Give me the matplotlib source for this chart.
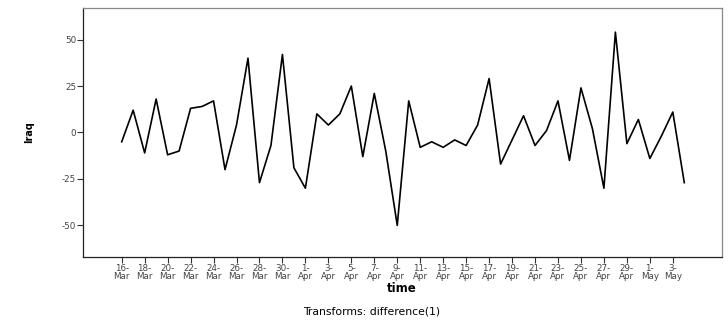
import matplotlib.pyplot as plt
import numpy as np
import pandas as pd

plt.rcParams['font.family'] = ['DejaVu Sans']

# daily first differences, 16-Mar .. 4-May
dates = pd.date_range('2003-03-16', '2003-05-04', freq='D')
iraq = [-5, 12, -11, 18, -12, -10, 13, 14, 17, -20,
        4, 40, -27, -7, 42, -19, -30, 10, 4, 10,
        25, -13, 21, -10, -50, 17, -8, -5, -8, -4,
        -7, 4, 29, -17, -4, 9, -7, 1, 17, -15,
        24, 2, -30, 54, -6, 7, -14, -2, 11, -27]
y_ticks = [-50, -25, 0, 25, 50]

x = np.arange(len(dates))
tick_idx = x[::2]
tick_labels = [f"{d.day}-\n{d.strftime('%b')}" for d in dates[::2]]

fig = plt.figure(figsize=(7.28, 3.2), dpi=100)
ax = fig.add_axes([0.114, 0.197, 0.878, 0.778])

ax.plot(x, iraq, color='black', linewidth=1.2)

ax.set_xlim(-3.37, 52.3)
ax.set_ylim(-67, 67)
ax.set_xticks(tick_idx)
ax.set_xticklabels(tick_labels, fontsize=6.3, color='#444444', linespacing=0.8)
ax.set_yticks(y_ticks)
ax.set_yticklabels([str(v) for v in y_ticks], fontsize=6.3, color='#444444')
ax.tick_params(length=4, width=0.8, pad=1, color='#333333')

for side in ['left', 'bottom']:
    ax.spines[side].set_color('#222222')
    ax.spines[side].set_linewidth(0.9)
for side in ['top', 'right']:
    ax.spines[side].set_color('#888888')
    ax.spines[side].set_linewidth(0.9)

ax.set_ylabel('Iraq', fontsize=7, fontweight='bold', labelpad=20)
fig.text(0.552, 0.097, 'time', ha='center', va='center', fontsize=8.5, fontweight='bold')
fig.text(0.51, 0.025, 'Transforms: difference(1)', ha='center', va='center', fontsize=7.8)

fig.savefig('out.png', dpi=100)
